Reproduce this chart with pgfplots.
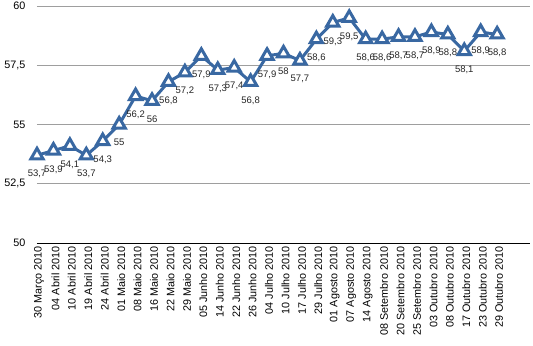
\documentclass[border=0pt]{standalone}
\usepackage{pgfplots}
\pgfplotsset{compat=1.18}
\usepackage{fontspec}
\setmainfont{Liberation Sans}
\definecolor{lineblue}{RGB}{57,104,162}
\begin{document}
\begin{tikzpicture}
\begin{axis}[
  scale only axis,
  width=493bp, height=237bp,
  xmin=0, xmax=30,
  ymin=50, ymax=60,
  ytick={50,52.5,55,57.5,60},
  xtick={0,...,28},
  xticklabels={30 Março 2010,04 Abril 2010,10 Abril 2010,19 Abril 2010,24 Abril 2010,01 Maio 2010,08 Maio 2010,16 Maio 2010,22 Maio 2010,29 Maio 2010,05 Junho 2010,14 Junho 2010,22 Junho 2010,26 Junho 2010,04 Julho 2010,10 Julho 2010,17 Julho 2010,29 Julho 2010,01 Agosto 2010,07 Agosto 2010,14 Agosto 2010,08 Setembro 2010,20 Setembro 2010,25 Setembro 2010,03 Outubro 2010,08 Outubro 2010,17 Outubro 2010,23 Outubro 2010,29 Outubro 2010},
  xticklabel style={rotate=90, anchor=east, font=\fontsize{10.8bp}{12bp}\selectfont, yshift=-2bp},
  yticklabel style={font=\fontsize{10.8bp}{12bp}\selectfont, xshift=-8bp},
  /pgf/number format/assume math mode=true,
  /pgf/number format/use comma,
  major tick length=0pt,
  axis lines*=left,
  y axis line style={draw=none},
  x axis line style={black, line width=1bp},
  ymajorgrids,
  grid style={color=black!38, line width=0.8bp},
  clip=false,
]
\addplot[color=lineblue, line width=3bp, mark=triangle*, mark size=7bp,
  mark options={fill=white, draw=lineblue, line width=3bp},
  nodes near coords,
  every node near coord/.append style={anchor=north, yshift=-10bp, font=\fontsize{9.5bp}{11bp}\selectfont, text=black!85, /pgf/number format/use comma, /pgf/number format/assume math mode=true}
] coordinates {
(0,53.7) (1,53.9) (2,54.1) (3,53.7) (4,54.3) (5,55) (6,56.2) (7,56) (8,56.8) (9,57.2)
(10,57.9) (11,57.3) (12,57.4) (13,56.8) (14,57.9) (15,58) (16,57.7) (17,58.6) (18,59.3) (19,59.5)
(20,58.6) (21,58.6) (22,58.7) (23,58.7) (24,58.9) (25,58.8) (26,58.1) (27,58.9) (28,58.8)
};
\end{axis}
\pgfresetboundingbox
\path (current axis.south west) ++(-37bp,-103bp) rectangle ++(533bp,346bp);
\end{tikzpicture}
\end{document}
